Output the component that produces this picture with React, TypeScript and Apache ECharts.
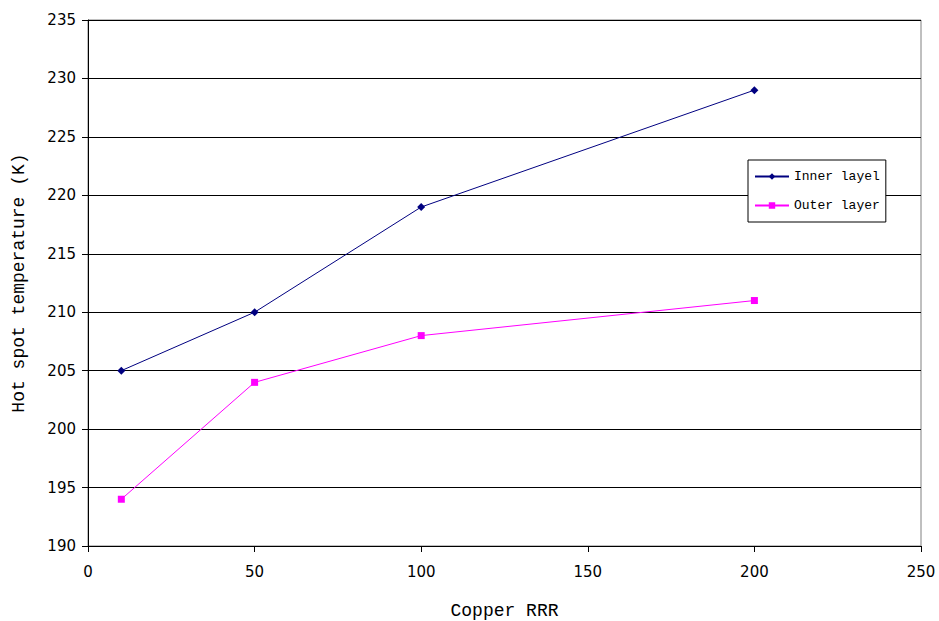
import React, { useEffect, useRef } from "react";
import * as echarts from "echarts";

const xValues = [10, 50, 100, 200];
const innerLayer = [205, 210, 219, 229];
const outerLayer = [194, 204, 208, 211];
const seriesNames = ["Inner layel", "Outer layer"];

export default function App() {
  const ref = useRef<HTMLDivElement>(null);
  useEffect(() => {
    if (!ref.current) return;
    const chart = echarts.init(ref.current, undefined, { renderer: "svg" });
    const tickFont = { fontFamily: "DejaVu Sans", fontSize: 15, color: "#000" };
    const titleFont = { fontFamily: "Liberation Mono", fontSize: 18, color: "#000" };
    chart.setOption({
      animation: false,
      backgroundColor: "#fff",
      grid: {
        left: 88,
        top: 20,
        right: 18,
        bottom: 75,
        containLabel: false,
        outerBoundsMode: "none",
        show: true,
        borderColor: "#808080",
        borderWidth: 1,
      },
      legend: {
        orient: "vertical",
        left: 748,
        top: 160,
        backgroundColor: "#fff",
        borderColor: "#000",
        borderWidth: 1,
        borderRadius: 0,
        padding: [10, 6, 10, 6],
        itemGap: 16,
        itemWidth: 34,
        itemHeight: 8,
        textStyle: { fontFamily: "Liberation Mono", fontSize: 13, color: "#000" },
        data: seriesNames,
      },
      xAxis: {
        type: "value",
        min: 0,
        max: 250,
        interval: 50,
        name: "Copper RRR",
        nameLocation: "middle",
        nameGap: 56,
        nameTextStyle: titleFont,
        axisLine: { show: true, onZero: false, lineStyle: { color: "#000", width: 1 } },
        axisTick: { show: true, inside: false, length: 6, lineStyle: { color: "#000" } },
        axisLabel: { ...tickFont, margin: 18 },
        splitLine: { show: false },
      },
      yAxis: {
        type: "value",
        min: 190,
        max: 235,
        interval: 5,
        name: "Hot spot temperature (K)",
        nameLocation: "middle",
        nameGap: 60,
        nameRotate: 90,
        nameTextStyle: titleFont,
        axisLine: { show: true, onZero: false, lineStyle: { color: "#000", width: 1 } },
        axisTick: { show: true, inside: false, length: 6, lineStyle: { color: "#000" } },
        axisLabel: { ...tickFont, margin: 12 },
        splitLine: { show: true, lineStyle: { color: "#000", width: 1 } },
      },
      series: [
        {
          name: seriesNames[0],
          type: "line",
          data: xValues.map((x, i) => [x, innerLayer[i]]),
          symbol: "diamond",
          symbolSize: 8,
          itemStyle: { color: "#000080" },
          lineStyle: { color: "#000080", width: 1 },
        },
        {
          name: seriesNames[1],
          type: "line",
          data: xValues.map((x, i) => [x, outerLayer[i]]),
          symbol: "rect",
          symbolSize: 7,
          itemStyle: { color: "#FF00FF" },
          lineStyle: { color: "#FF00FF", width: 1 },
        },
      ],
    });
    return () => chart.dispose();
  }, []);
  return (
    <div
      ref={ref}
      style={{ position: "fixed", left: 0, top: 0, width: 939, height: 621 }}
    />
  );
}
